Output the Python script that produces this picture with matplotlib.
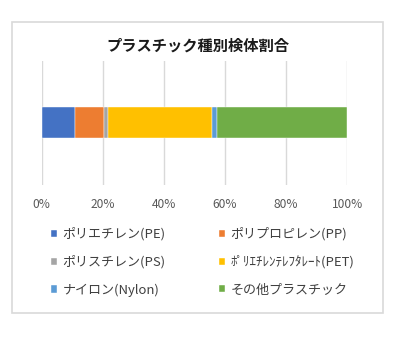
import numpy as np
import matplotlib.pyplot as plt
from matplotlib.patches import Rectangle

plt.rcParams['font.family'] = ['Noto Sans CJK JP', 'DejaVu Sans']

# Share of each plastic type (%)
categories = ["ポリエチレン(PE)", "ポリプロピレン(PP)", "ポリスチレン(PS)",
              "ﾎﾟﾘｴﾁﾚﾝﾃﾚﾌﾀﾚｰﾄ(PET)", "ナイロン(Nylon)", "その他プラスチック"]
shares = [10.9, 9.5, 1.2, 34.3, 1.4, 42.7]
colors = ["#4472C4", "#ED7D31", "#A5A5A5", "#FFC000", "#5B9BD5", "#70AD47"]
ticks = [0, 20, 40, 60, 80, 100]
tick_labels = ["0%", "20%", "40%", "60%", "80%", "100%"]

fig = plt.figure(figsize=(4.0, 3.39), dpi=100)
ax = fig.add_axes([0.104, 0.454, 0.764, 0.367])

left = 0
bars = []
for name, value, color in zip(categories, shares, colors):
    b = ax.barh(0, value, left=left, height=0.5, color=color, label=name,
                edgecolor="white", linewidth=0.3, zorder=3)
    bars.append(b)
    left += value

ax.set_xlim(0, 100)
ax.set_ylim(-1, 1)
ax.set_xticks(ticks)
ax.set_xticklabels(tick_labels, color="#595959", fontsize=8.6)
ax.set_yticks([])
ax.tick_params(axis="x", length=0, pad=9)
ax.grid(axis="x", color="#d9d9d9", linewidth=1, zorder=0)
for s in ax.spines.values():
    s.set_visible(False)

fig.text(0.495, 0.866, "プラスチック種別検体割合", ha="center", va="center",
         fontsize=11, fontweight="bold", color="#1a1a1a")

# order legend entries row by row in two columns
order = [0, 2, 4, 1, 3, 5]
leg = fig.legend([bars[i] for i in order], [categories[i] for i in order],
                 ncol=2, loc="upper left", bbox_to_anchor=(0.127, 0.329),
                 frameon=False, fontsize=9.4, handlelength=0.5,
                 handleheight=0.5, handletextpad=0.4, labelspacing=1.11,
                 columnspacing=4.05, borderaxespad=0, borderpad=0)
for t in leg.get_texts():
    t.set_color("#404040")

fig.patches.append(Rectangle((0.03, 0.0767), 0.9275, 0.858,
                             transform=fig.transFigure, fill=False,
                             edgecolor="#d9d9d9", linewidth=1.2))

fig.savefig("out.png", dpi=100)
